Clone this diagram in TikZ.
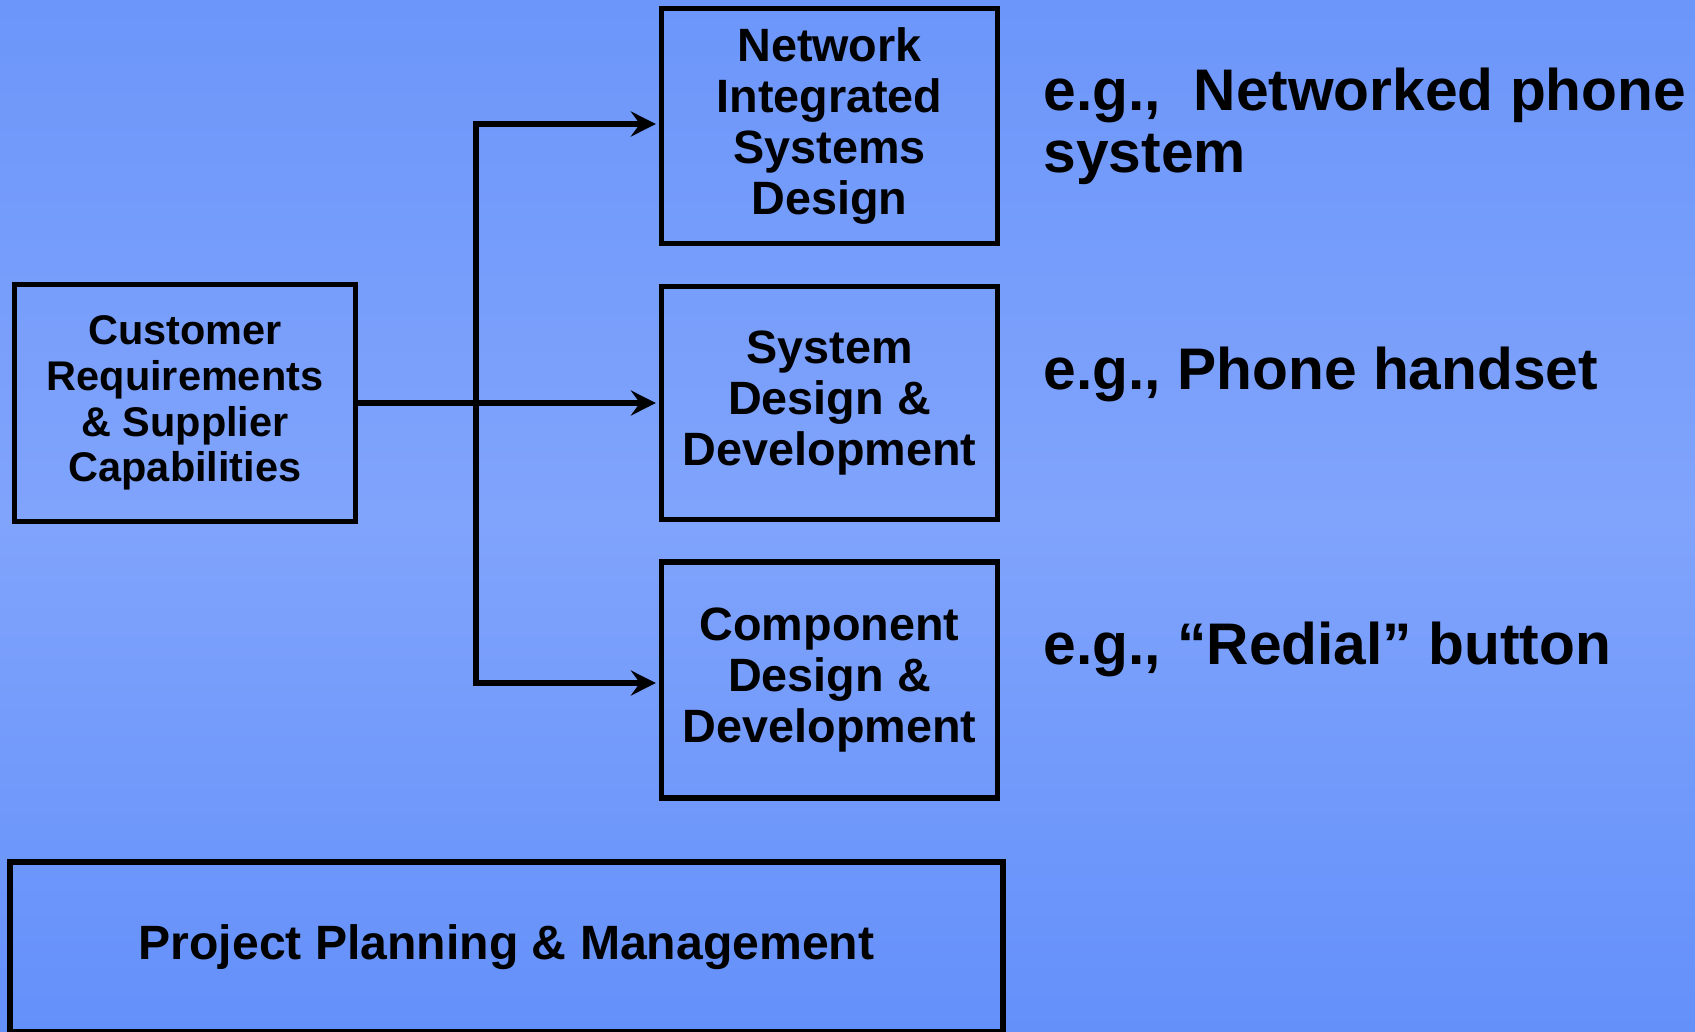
\documentclass[tikz,border=0pt]{standalone}
\usepackage{fontspec}
\setmainfont{Liberation Sans}
\usetikzlibrary{arrows.meta}
\definecolor{bgtop}{RGB}{108,150,250}
\definecolor{bgmid}{RGB}{128,164,252}
\definecolor{bgbot}{RGB}{100,144,250}
\tikzset{
  blockbox/.style={draw, line width=1.5pt, inner sep=0pt, align=center,
    font=\bfseries\fontsize{13.3}{14.6}\selectfont},
  example/.style={anchor=base west, inner sep=0pt, align=left,
    font=\bfseries\fontsize{16.7}{17.6}\selectfont},
  flow/.style={line width=1.5pt, -{Stealth[length=2.5mm,width=2.5mm,inset=0.9mm]}, shorten >=0.3mm}
}
\begin{document}
\begin{tikzpicture}[x=0.1mm, y=-0.1mm]
    \shade[top color=bgtop, bottom color=bgbot, middle color=bgmid] (0,0) rectangle (1695,1032);
    \useasboundingbox (0,0) rectangle (1695,1032);
    \node[blockbox, minimum width=34.1mm, minimum height=23.75mm,
      font=\bfseries\fontsize{11.8}{13}\selectfont] (cust) at (185,403)
      {Customer\\Requirements\\\& Supplier\\Capabilities};
    \node[blockbox, minimum width=33.6mm, minimum height=23.5mm] (net) at (829.5,126)
      {Network\\Integrated\\Systems\\Design};
    \node[blockbox, minimum width=33.6mm, minimum height=23.3mm] (sys) at (829.5,403)
      {System\\Design \&\\Development};
    \node[blockbox, minimum width=33.6mm, minimum height=23.6mm] (comp) at (829.5,680)
      {Component\\Design \&\\Development};
    \node[blockbox, minimum width=99.3mm, minimum height=17mm,
      font=\bfseries\fontsize{13.7}{15}\selectfont] (plan) at (506.5,947)
      {Project Planning \& Management};
    \coordinate (split) at (476,403);
    \draw[flow] (cust.east) -- (sys.west);
    \draw[flow] (split) |- ([yshift=0.2mm]net.west);
    \draw[flow] (split) |- ([yshift=-0.3mm]comp.west);
    \node[example] (lnet) at (1043,172) {e.g.,\ \ Networked phone\\system};
    \node[example] (lsys) at (1043,389) {e.g., Phone handset};
    \node[example] (lcomp) at (1043,664) {e.g., “Redial” button};
\end{tikzpicture}
\end{document}
